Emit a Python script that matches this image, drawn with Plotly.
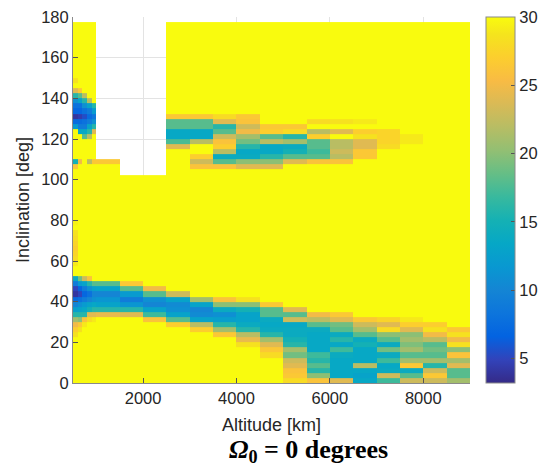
import plotly.graph_objects as go

# Grid of the map: altitude bins (fine 100 km steps below 1000 km) and 2.5-degree inclination bins
altitude_edges = [500, 600, 700, 800, 900, 1000, 1500, 2000, 2500, 3000, 3500, 4000,
                  4500, 5000, 5500, 6000, 6500, 7000, 7500, 8000, 8500, 9000]
inclination_step = 2.5
inclination_edges = [i * inclination_step for i in range(72)]  # 0 ... 177.5 deg

# Highest inclination with a solution in each altitude bin (above it: no data)
column_top = [177.5] * 5 + [110, 102.5, 102.5] + [177.5] * 13

# Values saturate at the top of the colour range everywhere outside the bands
saturation_value = 30

# Low-inclination band: (first inclination, values going upward) per altitude bin
lower_band = [
    (22.5, [28.5, 27, 25, 21, 16, 12.5, 10, 7.5, 4, 5, 9, 14]),
    (25, [28.5, 26.5, 20, 16, 13, 11, 8, 5, 7, 12, 19]),
    (27.5, [29, 26, 16, 13.5, 12, 9, 7, 9, 13, 23]),
    (30, [28, 24, 15, 13, 10, 8, 11, 16, 26]),
    (30, [29, 24, 16, 13.5, 11, 10, 12.5, 18]),
    (32.5, [24.5, 16, 13, 11.5, 10, 13, 18]),
    (32.5, [24, 16, 11.5, 9, 12, 18, 26.5]),
    (30, [26, 17, 13, 10, 11, 18, 25]),
    (27.5, [27, 18, 13, 11, 10.5, 13, 23]),
    (25, [27, 22, 13, 10.5, 10, 13, 21]),
    (22.5, [26.5, 21, 16, 12.5, 11, 14, 20, 26]),
    (17.5, [28.5, 24.5, 22, 16, 14, 13, 13, 15, 20, 28.5]),
    (12.5, [28, 26.5, 24, 21, 16, 14, 13.5, 14, 18, 18, 26.5]),
    (0, [28, 26.5, 26, 24, 23, 19, 21, 16, 15, 14, 14, 13.5, 23, 18, 24]),
    (0, [26, 20, 16, 18, 16, 17, 13.5, 13.5, 13.5, 13.5, 14, 18, 22, 25]),
    (0, [24, 13.5, 13.5, 13.5, 13.5, 14, 17, 13.5, 16, 14, 18, 19, 24, 26.5]),
    (0, [13.5, 13, 13.5, 22, 13.5, 13.5, 13.5, 15, 14, 18, 21, 23, 26.5]),
    (0, [17, 23, 14, 13.5, 17, 14, 19, 14, 18, 20, 28, 24, 27.5]),
    (0, [23, 18, 14, 26.5, 21, 18, 21, 19.5, 21, 20, 24, 27, 29]),
    (0, [23, 26.5, 23, 16, 21, 18, 19, 18, 22, 25, 28.5, 27]),
    (0, [21, 18, 18, 24, 21, 26, 20, 28.5, 25, 28.5, 26.5]),
]

# Retrograde band above 2500 km: altitude-bin index -> (first inclination, values)
upper_band = {
    8: (115, [24, 17.5, 13.5, 13.5, 18, 18, 26.5]),
    9: (105, [26, 23, 27, 30, 30, 22, 13.5, 13.5, 18, 18, 26.5]),
    10: (105, [26, 18, 14, 22, 27, 26, 23, 18, 16, 24, 28]),
    11: (105, [24, 20, 14, 13.5, 16, 19, 21, 25, 23, 26, 26.5]),
    12: (105, [24, 20, 16, 13.5, 13.5, 22, 18, 27, 26.5]),
    13: (107.5, [24, 18, 15, 14, 21, 16, 28, 26.5]),
    14: (107.5, [26, 18, 17, 18, 18, 27, 22, 30, 28]),
    15: (107.5, [26, 22, 23, 22, 22, 30, 24, 30, 28.5]),
    16: (110, [26.5, 26.5, 24, 24, 28.5, 27, 30, 29]),
    17: (115, [28, 27.5, 27.5, 27.5]),
    18: (117.5, [29, 29]),
}

# Low-altitude features (retrograde cluster, 108 deg strip, mid-latitude streak)
low_altitude_cells = {
    0: [(57.5, [29, 28, 27.5, 27, 27.5, 28, 28.5]), (77.5, [29.5]), (105, [26.5, 15]),
        (125, [12, 7.5, 4, 7, 8, 11, 16, 24, 30, 28.5])],
    1: [(107.5, [25]), (122.5, [13.5, 9, 7.5, 4.5, 7, 8, 13, 18, 26.5])],
    2: [(120, [18, 13.5, 9, 8, 5.5, 8, 11, 16, 22])],
    3: [(107.5, [22]), (120, [22, 16, 13, 9, 7.5, 9, 13, 22])],
    4: [(107.5, [26.5]), (122.5, [24, 16, 11, 8.5, 12, 16])],
    5: [(107.5, [26.5])],
}

color_min, color_max = 3.2, 30

n_cols = len(altitude_edges) - 1
n_rows = len(inclination_edges) - 1

grid = [[None] * n_cols for _ in range(n_rows)]
for c in range(n_cols):
    for r in range(n_rows):
        if inclination_edges[r] < column_top[c] - 1e-9:
            grid[r][c] = saturation_value


def place(col, start, values):
    r0 = int(round(start / inclination_step))
    for k, v in enumerate(values):
        grid[r0 + k][col] = v


for c, (start, values) in enumerate(lower_band):
    place(c, start, values)
for c, (start, values) in upper_band.items():
    place(c, start, values)
for c, runs in low_altitude_cells.items():
    for start, values in runs:
        place(c, start, values)

# MATLAB parula colour map
parula_rgb = [
    (53, 42, 135), (50, 67, 186), (3, 99, 225), (13, 117, 220), (20, 133, 212),
    (9, 152, 209), (6, 167, 198), (21, 177, 180), (56, 185, 158), (101, 190, 134),
    (146, 191, 115), (183, 189, 100), (217, 186, 86), (248, 187, 68), (252, 206, 46),
    (245, 228, 29), (249, 251, 14),
]
parula_pos = [0, 4, 8, 12, 16, 20, 24, 28, 32, 36, 40, 44, 48, 52, 56, 60, 63]
parula = [[p / 63, "rgb(%d,%d,%d)" % rgb] for p, rgb in zip(parula_pos, parula_rgb)]

text_color = "#262626"
axis_color = "#8a8a8a"
grid_color = "#e3e3e3"
sans = "Liberation Sans, Arial, sans-serif"

fig = go.Figure(
    go.Heatmap(
        x=altitude_edges,
        y=inclination_edges,
        z=grid,
        colorscale=parula,
        zmin=color_min,
        zmax=color_max,
        hoverongaps=False,
        colorbar=dict(
            thickness=29,
            thicknessmode="pixels",
            len=1,
            lenmode="fraction",
            x=1.0403,
            xanchor="left",
            y=0.5,
            yanchor="middle",
            xpad=0,
            ypad=0,
            outlinewidth=1,
            outlinecolor=axis_color,
            tickvals=[5, 10, 15, 20, 25, 30],
            ticks="inside",
            ticklen=4,
            tickcolor="#555555",
            tickfont=dict(family=sans, size=16.5, color=text_color),
        ),
    )
)

axis_common = dict(
    ticks="inside",
    ticklen=5,
    tickcolor="#555555",
    showline=True,
    linecolor=axis_color,
    linewidth=1,
    showgrid=True,
    gridcolor=grid_color,
    gridwidth=1,
    zeroline=False,
    tickfont=dict(family=sans, size=16.5, color=text_color),
)

fig.update_layout(
    width=540,
    height=468,
    margin=dict(l=73, r=70, t=17, b=85, autoexpand=False),
    paper_bgcolor="white",
    plot_bgcolor="white",
    font=dict(family=sans, color=text_color),
    xaxis=dict(
        range=[500, 9000],
        tickvals=[2000, 4000, 6000, 8000],
        title=dict(text="Altitude [km]", font=dict(family=sans, size=18, color=text_color), standoff=12),
        **axis_common,
    ),
    yaxis=dict(
        range=[0, 180],
        tickvals=list(range(0, 181, 20)),
        title=dict(text="Inclination [deg]", font=dict(family=sans, size=18, color=text_color), standoff=6),
        **axis_common,
    ),
    annotations=[
        dict(
            text="<b><i>Ω</i><sub>0</sub> = 0 degrees</b>",
            x=0.594,
            y=-0.186,
            xref="paper",
            yref="paper",
            xanchor="center",
            yanchor="middle",
            showarrow=False,
            font=dict(family="Liberation Serif, Times New Roman, serif", size=26, color="black"),
        )
    ],
)

fig.write_html("out.html")
